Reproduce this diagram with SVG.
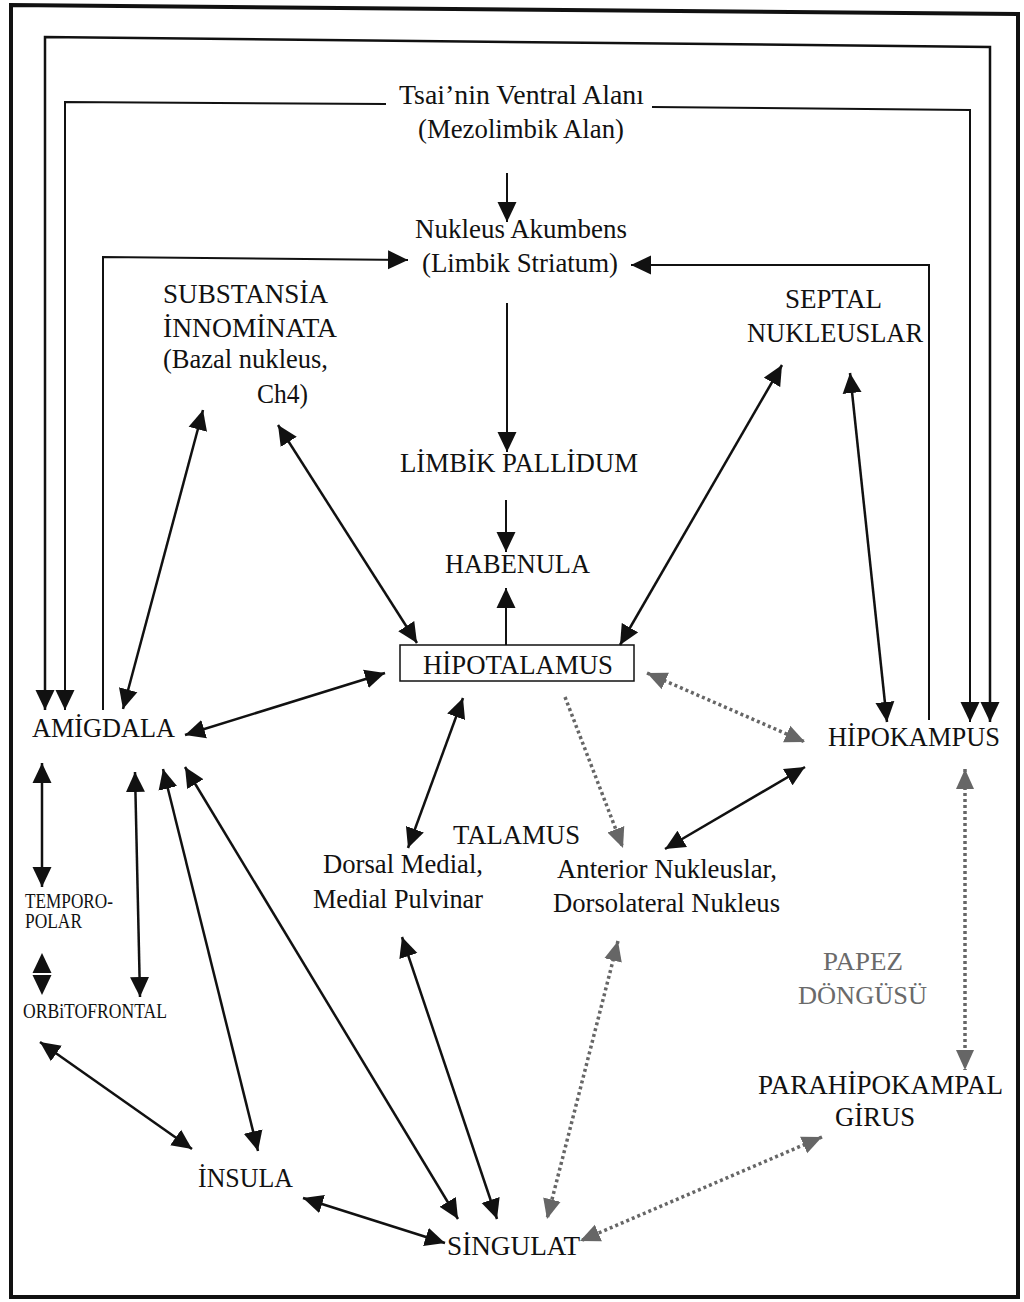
<svg xmlns="http://www.w3.org/2000/svg" width="1024" height="1302" viewBox="0 0 1024 1302">
<style>
text{font-family:"Liberation Serif","Times New Roman",serif;fill:#111;font-size:28px}
.sm{font-size:20px}
.gr{fill:#6a6a6a;font-size:25px}
.ar{fill:none;stroke:#111;stroke-width:2.5;marker-start:url(#ah);marker-end:url(#ah)}
.ae{fill:none;stroke:#111;stroke-width:2;marker-end:url(#ah)}
.dt{fill:none;stroke:#666;stroke-width:3.5;stroke-dasharray:3 3;marker-start:url(#ag);marker-end:url(#ag)}
</style>
<defs>
<marker id="ah" viewBox="0 0 20 20" refX="20" refY="10" markerWidth="20" markerHeight="20" markerUnits="userSpaceOnUse" orient="auto-start-reverse"><path d="M0,0.5 L20,10 L0,19.5 z" fill="#111"/></marker>
<marker id="ag" viewBox="0 0 20 20" refX="20" refY="10" markerWidth="20" markerHeight="20" markerUnits="userSpaceOnUse" orient="auto-start-reverse"><path d="M0,1 L20,10 L0,19 z" fill="#666"/></marker>
</defs>
<rect width="1024" height="1302" fill="#fff"/>
<path d="M11,5 L1018,14 L1018,1297 L11,1297 Z" fill="none" stroke="#111" stroke-width="4"/>

<g id="connectors">
<path class="ar" d="M990,722 L990,47 L45,37 L45,710"/>
<path class="ae" d="M386,104 L65,102 L65,710"/>
<path class="ae" d="M652,107 L970,110 L970,722"/>
<path class="ae" d="M103,710 L103,257 L408,260"/>
<path class="ae" d="M929,720 L929,265 L631,265"/>
<path class="ae" d="M507,173 L507,222"/>
<path class="ae" d="M507,303 L507,452"/>
<path class="ae" d="M506,500 L506,552"/>
<path class="ae" d="M506,645 L506,588"/>
<path class="ar" d="M123,709 L203,410"/>
<path class="ar" d="M278,425 L417,643"/>
<path class="ar" d="M185,735 L385,673"/>
<path class="ar" d="M782,365 L620,645"/>
<path class="ar" d="M850,373 L887,722"/>
<path class="ar" d="M463,698 L408,848"/>
<path class="ar" d="M805,767 L665,849"/>
<path class="ar" d="M42,763 L42,887"/>
<path class="ar" style="stroke:#fff;stroke-width:1.5" d="M42,953 L42,995"/>
<path class="ar" d="M135,772 L140,997"/>
<path class="ar" d="M40,1042 L192,1149"/>
<path class="ar" d="M163,769 L258,1151"/>
<path class="ar" d="M185,767 L458,1219"/>
<path class="ar" d="M402,937 L497,1219"/>
<path class="ar" d="M303,1198 L445,1243"/>
<path class="dt" d="M647,673 L805,742"/>
<path class="dt" style="marker-start:none" d="M565,697 L623,848"/>
<path class="dt" d="M618,941 L547,1219"/>
<path class="dt" d="M965,769 L965,1070"/>
<path class="dt" d="M822,1137 L580,1241"/>
</g>

<g id="tsai"><text x="399" y="104" textLength="245" lengthAdjust="spacingAndGlyphs">Tsai’nin Ventral Alanı</text><text x="418" y="138" textLength="206" lengthAdjust="spacingAndGlyphs">(Mezolimbik Alan)</text></g>
<g id="nukleus-akumbens"><text x="415" y="238" textLength="212" lengthAdjust="spacingAndGlyphs">Nukleus Akumbens</text><text x="422" y="272" textLength="196" lengthAdjust="spacingAndGlyphs">(Limbik Striatum)</text></g>
<g id="substansia"><text x="163" y="303" textLength="165" lengthAdjust="spacingAndGlyphs">SUBSTANSİA</text><text x="163" y="337" textLength="174" lengthAdjust="spacingAndGlyphs">İNNOMİNATA</text><text x="163" y="368" textLength="165" lengthAdjust="spacingAndGlyphs">(Bazal nukleus,</text><text x="257" y="403" textLength="51" lengthAdjust="spacingAndGlyphs">Ch4)</text></g>
<g id="septal"><text x="785" y="308" textLength="97" lengthAdjust="spacingAndGlyphs">SEPTAL</text><text x="747" y="342" textLength="176" lengthAdjust="spacingAndGlyphs">NUKLEUSLAR</text></g>
<g id="limbik-pallidum"><text x="400" y="472" textLength="238" lengthAdjust="spacingAndGlyphs">LİMBİK PALLİDUM</text></g>
<g id="habenula"><text x="445" y="573" textLength="145" lengthAdjust="spacingAndGlyphs">HABENULA</text></g>
<g id="hipotalamus"><rect x="400" y="645" width="234" height="36" fill="none" stroke="#111" stroke-width="1.5"/><text x="423" y="674" textLength="190" lengthAdjust="spacingAndGlyphs">HİPOTALAMUS</text></g>
<g id="amigdala"><text x="32" y="737" textLength="143" lengthAdjust="spacingAndGlyphs">AMİGDALA</text></g>
<g id="hipokampus"><text x="828" y="746" textLength="172" lengthAdjust="spacingAndGlyphs">HİPOKAMPUS</text></g>
<g id="talamus"><text x="453" y="844" textLength="127" lengthAdjust="spacingAndGlyphs">TALAMUS</text></g>
<g id="dorsal-medial"><text x="323" y="873" textLength="160" lengthAdjust="spacingAndGlyphs">Dorsal Medial,</text><text x="313" y="908" textLength="170" lengthAdjust="spacingAndGlyphs">Medial Pulvinar</text></g>
<g id="anterior"><text x="557" y="878" textLength="220" lengthAdjust="spacingAndGlyphs">Anterior Nukleuslar,</text><text x="553" y="912" textLength="227" lengthAdjust="spacingAndGlyphs">Dorsolateral Nukleus</text></g>
<g id="temporopolar"><text class="sm" x="25" y="908" textLength="88" lengthAdjust="spacingAndGlyphs">TEMPORO-</text><text class="sm" x="25" y="928" textLength="57" lengthAdjust="spacingAndGlyphs">POLAR</text></g>
<g id="orbitofrontal"><text class="sm" x="23" y="1018" textLength="144" lengthAdjust="spacingAndGlyphs">ORBiTOFRONTAL</text></g>
<g id="papez"><text class="gr" x="823" y="970" textLength="80" lengthAdjust="spacingAndGlyphs">PAPEZ</text><text class="gr" x="798" y="1004" textLength="129" lengthAdjust="spacingAndGlyphs">DÖNGÜSÜ</text></g>
<g id="parahipokampal"><text x="758" y="1094" textLength="245" lengthAdjust="spacingAndGlyphs">PARAHİPOKAMPAL</text><text x="835" y="1126" textLength="80" lengthAdjust="spacingAndGlyphs">GİRUS</text></g>
<g id="insula"><text x="198" y="1187" textLength="95" lengthAdjust="spacingAndGlyphs">İNSULA</text></g>
<g id="singulat"><text x="447" y="1255" textLength="133" lengthAdjust="spacingAndGlyphs">SİNGULAT</text></g>
</svg>
